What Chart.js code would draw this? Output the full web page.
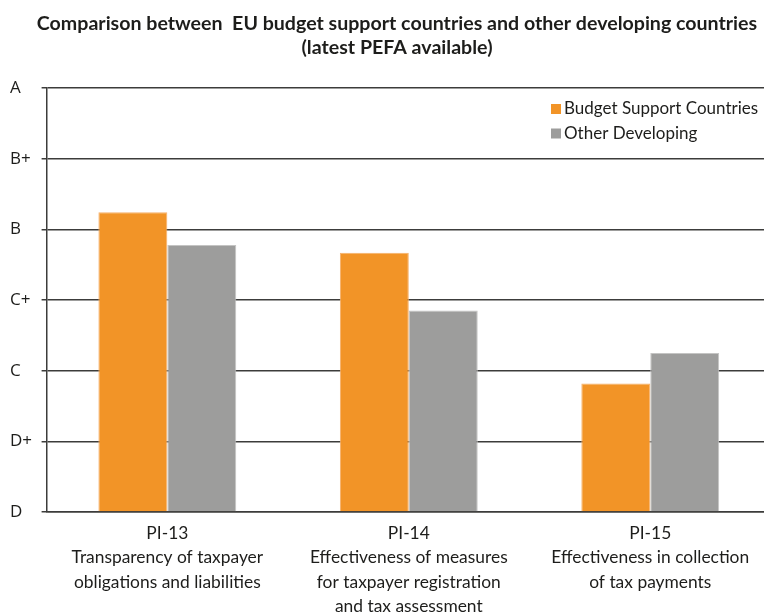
<!DOCTYPE html>
<html>
<head>
	<title>PEFA comparison</title>
	<script src="https://cdn.jsdelivr.net/npm/chart.js@4"></script>
	<style>
		body { margin: 0; overflow: hidden; background: #fff; }
		#wrap { position: relative; width: 771px; height: 614px; }
	</style>
</head>
<body>
	<script type="text/javascript">
		// PEFA indicators on the x axis (first line is the indicator code)
		var categories = [
			['PI-13', 'Transparency of taxpayer', 'obligations and liabilities'],
			['PI-14', 'Effectiveness of measures', 'for taxpayer registration', 'and tax assessment'],
			['PI-15', 'Effectiveness in collection', 'of tax payments']
		];
		// grade scale, D = 0 ... A = 6
		var grades = ['D', 'D+', 'C', 'C+', 'B', 'B+', 'A'];

		var budgetSupport = [4.24, 3.67, 1.82];
		var otherDeveloping = [3.78, 2.85, 2.25];

		var titleLines = ['Comparison between  EU budget support countries and other developing countries', '(latest PEFA available)'];
	</script>
	<div id="wrap">
		<canvas id="chart1"></canvas>
	</div>
	<script type="text/javascript">
		var labelFont = "Lato, sans-serif";
		var textColor = '#1d1d1b';

		// two line title and the legend inside the plot (top right)
		var decorations = {
			id: 'decorations',
			afterDraw: function(chart) {
				var ctx = chart.ctx;
				ctx.save();
				ctx.fillStyle = textColor;
				ctx.textBaseline = 'middle';
				ctx.textAlign = 'center';
				ctx.font = "bold 19.6px " + labelFont;
				titleLines.forEach(function(line, i) {
					ctx.fillText(line, 397, 24 + i * 24);
				});

				ctx.font = "17px " + labelFont;
				ctx.textAlign = 'left';
				chart.data.datasets.forEach(function(ds, i) {
					var y = 109 + i * 24.5;
					ctx.fillStyle = ds.backgroundColor;
					ctx.fillRect(551, y - 5, 10, 10);
					ctx.fillStyle = textColor;
					ctx.fillText(ds.label, 564, y);
				});
				ctx.restore();
			}
		};

		var ctx1 = document.getElementById('chart1');
		var chart1 = new Chart(ctx1, {
			type: 'bar',
			data: {
				labels: categories,
				datasets: [{
					label: 'Budget Support Countries',
					backgroundColor: '#f29427',
					borderColor: '#f6b06a',
					borderWidth: 1,
					data: budgetSupport
				}, {
					label: 'Other Developing',
					backgroundColor: '#9d9d9c',
					borderColor: '#c4c4c3',
					borderWidth: 1,
					data: otherDeveloping
				}]
			},
			options: {
				responsive: true,
				maintainAspectRatio: false,
				animation: false,
				layout: { padding: { left: 10, right: 0, top: 88, bottom: 0 } },
				categoryPercentage: 0.571,
				barPercentage: 1.0,
				plugins: {
					legend: { display: false },
					tooltip: { enabled: false }
				},
				scales: {
					x: {
						grid: { display: false },
						border: { display: true, color: '#3c3c3b', width: 1.5 },
						ticks: {
							color: textColor,
							padding: 1,
							font: { family: labelFont, size: 17.4, lineHeight: 1.41 }
						},
						afterFit: function(scale) { scale.height = 102; }
					},
					y: {
						min: 0,
						max: 6,
						grid: { color: '#3c3c3b', lineWidth: 1.5, tickLength: 5 },
						border: { display: true, color: '#3c3c3b', width: 1.5 },
						ticks: {
							stepSize: 1,
							color: textColor,
							crossAlign: 'far',
							font: { family: "'Open Sans', sans-serif", size: 17 },
							callback: function(value) { return grades[value]; }
						},
						afterFit: function(scale) { scale.width = 36.6; }
					}
				}
			},
			plugins: [decorations]
		});
	</script>
</body>
</html>
